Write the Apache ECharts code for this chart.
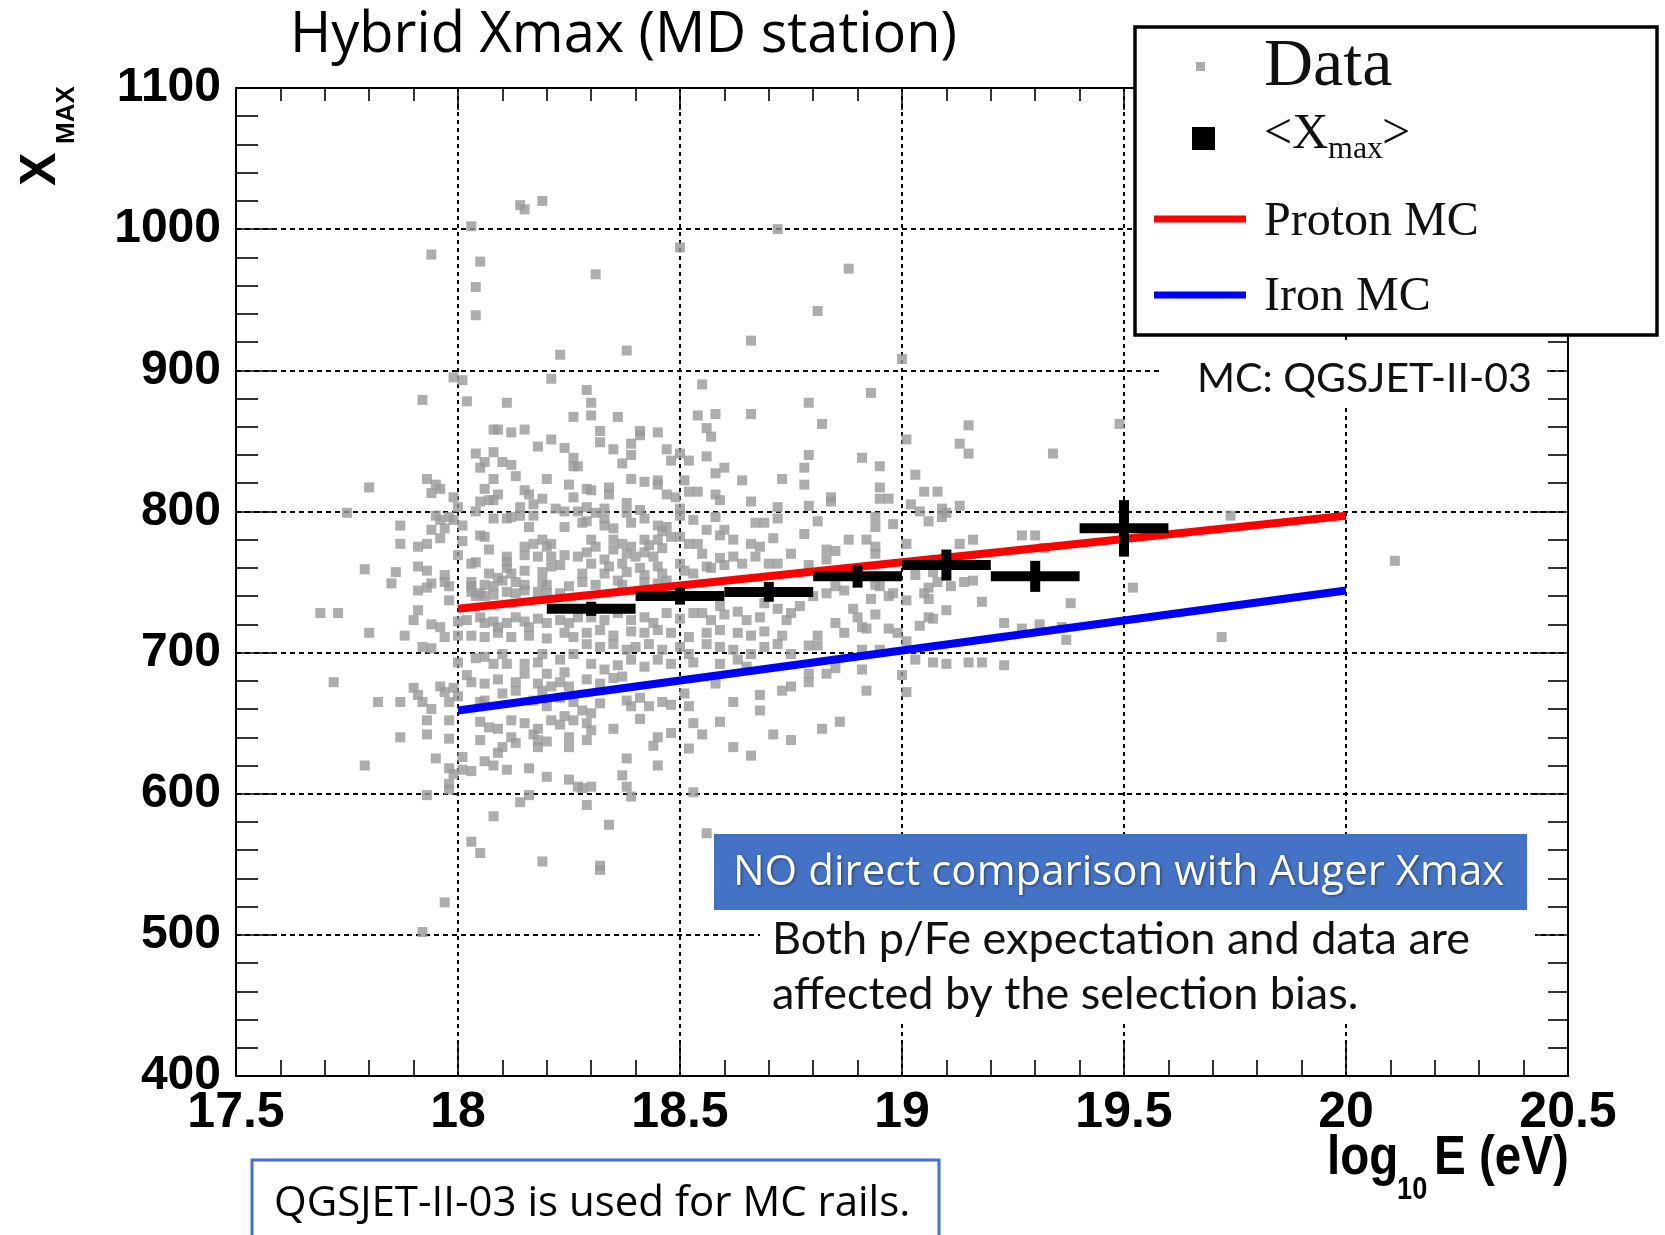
<!DOCTYPE html>
<html>
<head>
<meta charset="utf-8">
<title>Hybrid Xmax (MD station)</title>
<script src="https://cdn.jsdelivr.net/npm/echarts@6/dist/echarts.min.js"></script>
<style>
  html, body { margin: 0; padding: 0; background: #fff; }
  #chart { width: 1665px; height: 1235px; }
</style>
</head>
<body>
<div id="chart"></div>
<script>
// ---- axis setup ----
const X_MIN = 17.5, X_MAX = 20.5, X_STEP = 0.5;
const Y_MIN = 400, Y_MAX = 1100, Y_STEP = 100;

// ---- individual events: [log10 E, Xmax] ----
const dataPoints = [
  // sparse events outside the core
  [18.14,1017],[18.19,1020],[18.15,1014],[18.03,1002],[17.94,982],[18.05,977],[18.31,968],[18.50,987],
  [18.72,1000],[18.88,972],[18.04,959],[18.04,939],[18.81,942],[18.66,921],[18.23,911],[18.38,914],
  [19.00,908],[17.99,895],[18.01,893],[18.21,894],[18.29,886],[18.55,890],
  [17.75,799],[17.69,728],[17.73,728],[17.72,679],[17.92,502],[17.97,523],
  [19.32,774],[19.49,862],[19.34,841],[19.74,797],[20.11,765],[19.52,746],[19.38,735],[19.72,711],
  [19.36,718],[19.37,709],[19.31,720],
  // 17.8 - 18.27, 710 - 880
  [17.92,879],[18.02,878],[18.11,877],[18.26,867],[18.08,858],[18.09,858],[18.12,856],[18.15,858],
  [18.21,851],[18.18,846],[18.24,845],[18.04,841],[18.08,842],[18.06,835],[18.05,831],[18.10,835],
  [18.12,833],[18.26,838],[18.26,832],[17.93,823],[18.08,823],[18.13,825],[18.20,823],[17.95,819],
  [17.96,816],[18.06,816],[18.09,812],[18.08,808],[18.15,815],[18.16,812],[18.19,809],[18.25,819],
  [18.26,810],[17.80,817],[17.94,813],[17.99,810],[18.05,807],[18.07,808],[18.17,805],[18.22,802],
  [18.00,803],[18.04,800],[18.14,803],[18.14,797],[18.17,797],[18.24,800],[18.27,800],[17.95,797],
  [17.96,794],[17.98,796],[17.99,794],[17.87,790],[18.08,795],[18.11,795],[18.12,796],[18.16,789],
  [18.24,789],[17.94,787],[17.97,788],[18.01,790],[18.05,783],[18.06,782],[18.01,779],[17.87,777],
  [17.91,775],[17.93,777],[17.96,781],[18.07,773],[18.11,768],[18.11,764],[18.15,775],[18.15,769],
  [18.17,777],[18.19,780],[18.20,775],[18.21,777],[18.18,768],[18.21,768],[18.24,769],[18.00,769],
  [18.03,763],[18.04,764],[17.79,759],[17.86,757],[17.91,761],[17.93,758],[17.97,755],[18.07,756],
  [18.09,753],[18.11,760],[18.12,756],[18.15,758],[18.19,757],[18.21,761],[18.23,762],[17.85,749],
  [17.91,744],[17.93,746],[17.94,749],[17.97,750],[17.98,747],[18.03,750],[18.03,747],[18.06,748],
  [18.08,747],[18.10,751],[18.13,750],[18.15,748],[18.19,750],[18.20,748],[18.25,747],[17.98,737],
  [18.03,743],[18.04,740],[18.05,742],[18.06,740],[18.08,741],[18.11,743],[18.13,742],[18.15,744],
  [18.18,743],[18.20,742],[18.23,742],[17.91,730],[17.90,723],[17.94,720],[17.96,718],[18.00,722],
  [18.02,723],[18.05,725],[18.06,721],[18.08,722],[18.09,718],[18.11,721],[18.13,725],[18.15,722],
  [18.16,718],[18.18,724],[18.20,721],[18.23,723],[18.25,721],[18.27,725],[17.80,714],[17.88,712],
  [17.97,711],[18.00,712],[18.03,712],[18.06,711],[18.09,714],[18.12,711],[18.16,712],[18.20,710],
  [18.24,714],[18.26,711],
  // 18.27 - 18.77, 710 - 880
  [18.30,877],[18.30,868],[18.36,867],[18.54,868],[18.58,869],[18.66,869],[18.32,857],[18.32,849],
  [18.41,857],[18.41,854],[18.45,856],[18.56,859],[18.57,853],[18.39,848],[18.35,844],[18.47,844],
  [18.50,841],[18.48,836],[18.52,836],[18.39,840],[18.37,834],[18.56,839],[18.60,831],[18.58,827],
  [18.27,832],[18.39,823],[18.42,821],[18.45,822],[18.45,819],[18.51,822],[18.64,822],[18.73,823],
  [18.29,816],[18.30,815],[18.34,817],[18.34,812],[18.47,812],[18.49,810],[18.52,814],[18.54,814],
  [18.58,812],[18.59,808],[18.29,803],[18.31,799],[18.33,802],[18.33,795],[18.38,806],[18.38,799],
  [18.41,801],[18.42,795],[18.50,802],[18.50,797],[18.66,807],[18.72,803],[18.72,795],[18.28,792],
  [18.29,793],[18.33,790],[18.35,788],[18.39,792],[18.45,790],[18.46,786],[18.47,789],[18.53,794],
  [18.56,787],[18.58,796],[18.59,783],[18.60,787],[18.67,792],[18.69,792],[18.71,781],[18.30,780],
  [18.31,775],[18.29,771],[18.35,780],[18.35,773],[18.37,777],[18.39,775],[18.38,770],[18.42,780],
  [18.42,771],[18.43,776],[18.45,780],[18.46,774],[18.48,782],[18.50,782],[18.52,777],[18.54,777],
  [18.62,780],[18.66,777],[18.68,775],[18.27,768],[18.30,763],[18.28,756],[18.33,766],[18.34,761],
  [18.33,756],[18.37,763],[18.38,757],[18.40,768],[18.41,760],[18.42,755],[18.44,768],[18.45,761],
  [18.46,756],[18.50,763],[18.51,758],[18.53,756],[18.55,770],[18.56,761],[18.57,760],[18.59,767],
  [18.60,762],[18.62,768],[18.64,763],[18.67,768],[18.70,763],[18.72,763],[18.75,770],[18.28,750],
  [18.31,748],[18.36,751],[18.37,748],[18.42,750],[18.45,749],[18.47,751],[18.30,725],[18.33,723],
  [18.36,728],[18.39,723],[18.42,725],[18.44,721],[18.47,728],[18.50,724],[18.53,728],[18.55,728],
  [18.57,723],[18.60,727],[18.63,729],[18.65,723],[18.68,725],[18.72,731],[18.75,728],[18.74,723],
  [18.29,714],[18.32,716],[18.35,712],[18.39,715],[18.42,714],[18.45,716],[18.48,714],[18.52,711],
  [18.56,714],[18.59,716],[18.63,714],[18.66,712],[18.69,715],[18.73,712],[18.59,733],[18.69,735],
  // 18.77 - 19.3, 710 - 885
  [18.93,884],[18.79,877],[18.82,862],[19.15,861],[19.01,851],[19.13,848],[19.15,841],[18.79,840],
  [18.91,838],[18.78,831],[18.78,819],[18.95,832],[19.03,826],[18.95,817],[19.05,814],[19.08,814],
  [18.84,810],[18.84,807],[18.95,809],[18.97,809],[18.79,804],[19.02,805],[19.04,800],[19.13,804],
  [19.09,802],[19.10,799],[19.09,796],[18.94,796],[18.94,789],[18.81,793],[18.98,791],[19.06,793],
  [18.78,784],[18.88,780],[18.92,780],[18.94,775],[19.01,777],[19.13,777],[19.16,780],[19.27,783],
  [19.30,783],[18.83,773],[18.85,772],[18.94,770],[18.83,766],[18.79,762],[19.03,755],[19.07,757],
  [19.08,750],[19.06,746],[19.05,742],[19.06,738],[19.14,750],[19.16,751],[19.11,747],[18.85,747],
  [18.87,744],[18.94,748],[18.95,747],[18.83,742],[18.80,740],[18.93,738],[18.97,740],[18.98,742],
  [19.01,737],[19.18,736],[18.77,733],[18.89,731],[18.90,725],[19.10,730],[18.85,721],[18.87,714],
  [18.94,727],[19.06,725],[19.07,724],[19.04,719],[18.91,718],[18.92,717],[18.97,717],[18.99,714],
  [19.23,721],[19.27,717],[18.81,712],
  // 17.8 - 18.27, 550 - 710
  [17.92,704],[17.94,703],[18.00,693],[18.04,696],[18.06,697],[18.08,692],[18.10,699],[18.11,692],
  [18.15,692],[18.15,685],[18.18,693],[18.20,685],[18.19,699],[18.23,695],[18.24,686],[18.26,699],
  [18.02,684],[18.03,679],[18.06,678],[18.09,681],[18.10,671],[18.13,679],[18.13,673],[18.18,678],
  [18.19,673],[18.21,676],[18.23,679],[18.25,676],[17.90,675],[17.91,670],[17.96,676],[17.97,672],
  [17.99,675],[17.92,665],[17.94,660],[17.82,665],[17.87,665],[17.98,665],[18.00,669],[18.05,665],
  [18.06,666],[18.17,666],[18.20,662],[18.23,668],[18.26,665],[17.93,652],[17.98,652],[18.05,651],
  [18.07,647],[18.09,646],[18.12,652],[18.15,650],[18.18,646],[18.21,652],[18.23,649],[18.24,655],
  [18.26,652],[17.87,640],[17.93,642],[17.98,639],[18.05,638],[18.10,633],[18.12,640],[18.13,636],
  [18.17,642],[18.18,638],[18.18,633],[18.20,637],[18.25,640],[18.25,633],[17.95,625],[18.01,626],
  [18.06,623],[18.08,620],[18.09,629],[17.79,620],[17.98,618],[17.99,614],[18.01,617],[18.03,616],
  [18.11,617],[18.16,618],[18.20,612],[18.25,610],[18.27,605],[17.98,607],[17.98,603],[17.93,599],
  [18.14,594],[18.16,599],[18.08,584],[18.03,566],[18.05,558],[18.19,552],
  // 18.27 - 18.77, 540 - 710
  [18.29,706],[18.32,704],[18.35,706],[18.38,702],[18.40,704],[18.43,706],[18.46,702],[18.50,704],
  [18.52,699],[18.56,706],[18.59,704],[18.62,702],[18.66,699],[18.69,704],[18.72,706],[18.75,699],
  [18.30,692],[18.33,688],[18.36,691],[18.39,695],[18.42,690],[18.45,695],[18.48,692],[18.53,693],
  [18.59,692],[18.63,695],[18.65,690],[18.29,681],[18.32,678],[18.35,682],[18.37,683],[18.38,666],
  [18.41,668],[18.43,662],[18.39,662],[18.28,659],[18.30,657],[18.32,664],[18.46,665],[18.48,663],
  [18.51,671],[18.52,662],[18.58,678],[18.62,665],[18.68,670],[18.68,659],[18.73,673],[18.75,676],
  [18.29,650],[18.30,645],[18.35,646],[18.41,653],[18.53,650],[18.55,642],[18.59,651],[18.48,643],
  [18.45,640],[18.44,634],[18.29,638],[18.52,632],[18.62,633],[18.66,627],[18.71,642],[18.75,638],
  [18.38,625],[18.45,620],[18.37,613],[18.28,604],[18.30,605],[18.38,605],[18.39,598],[18.53,601],
  [18.29,592],[18.34,578],[18.56,572],[18.32,549],[18.32,546],
  // 18.77 - 19.25, 640 - 710
  [18.79,705],[18.81,705],[18.91,702],[18.95,702],[19.01,708],[19.03,695],[19.07,693],[19.10,692],
  [19.15,693],[19.18,693],[19.23,691],[18.79,685],[18.79,679],[18.83,685],[18.85,689],[18.91,688],
  [19.00,684],[19.01,672],[18.92,673],[18.82,646],[18.86,651]
];

// ---- binned mean <Xmax> ----
const meanLogE = [18.3, 18.5, 18.7, 18.9, 19.1, 19.3, 19.5];
const meanXmax = [731, 740, 743, 754, 762, 754, 788];
const meanErr  = [5, 6, 7, 8, 11, 11, 20];
const BIN_HALF = 0.1;

// ---- MC expectations (QGSJET-II-03) ----
const protonLine = [[18, 731], [20, 797]];
const ironLine   = [[18, 659], [20, 744]];

const meanData = meanLogE.map((e, i) => [e, meanXmax[i], meanErr[i]]);

const serifFont = '"Liberation Serif", "Times New Roman", serif';
const sansBold = '"Liberation Sans", Arial, sans-serif';
const officeFont = '"Open Sans", "Noto Sans", sans-serif';
const gillFont = 'Lato, "Open Sans", sans-serif';

function axisCommon(position, majorLen, minorLen) {
  return {
    axisLine: { show: true, onZero: false, lineStyle: { color: '#000', width: 2 } },
    axisTick: { show: true, inside: true, length: majorLen, lineStyle: { color: '#000', width: 1.6 } },
    minorTick: { show: true, splitNumber: 5, length: minorLen, lineStyle: { color: '#000', width: 1.6 } },
    position: position
  };
}

const chart = echarts.init(document.getElementById('chart'), null, { renderer: 'canvas' });

chart.setOption({
  animation: false,
  backgroundColor: '#fff',
  title: {
    text: 'Hybrid Xmax (MD station)',
    left: 290, top: 8, padding: 0,
    textStyle: { fontFamily: officeFont, fontSize: 56, fontWeight: 'normal', color: '#000' }
  },
  grid: { left: 236, top: 88, width: 1332, height: 988, containLabel: false },
  xAxis: [
    Object.assign({
      type: 'value', min: X_MIN, max: X_MAX, interval: X_STEP,
      splitLine: { show: true, lineStyle: { color: '#000', width: 2, type: [4, 4] } },
      axisLabel: { show: true, margin: 12, color: '#000', fontSize: 50, fontWeight: 'bold', fontFamily: sansBold }
    }, axisCommon('bottom', 35, 16)),
    Object.assign({
      type: 'value', min: X_MIN, max: X_MAX, interval: X_STEP,
      splitLine: { show: false }, axisLabel: { show: false }
    }, axisCommon('top', 22, 13))
  ],
  yAxis: [
    Object.assign({
      type: 'value', min: Y_MIN, max: Y_MAX, interval: Y_STEP,
      splitLine: { show: true, lineStyle: { color: '#000', width: 2, type: [5, 4] } },
      axisLabel: { show: true, margin: 15, color: '#000', fontSize: 48, fontWeight: 'bold', fontFamily: sansBold,
                   formatter: v => String(v) }
    }, axisCommon('left', 40, 22)),
    Object.assign({
      type: 'value', min: Y_MIN, max: Y_MAX, interval: Y_STEP,
      splitLine: { show: false }, axisLabel: { show: false }
    }, axisCommon('right', 38, 20))
  ],
  series: [
    {
      name: 'Data', type: 'scatter', xAxisIndex: 0, yAxisIndex: 0,
      symbol: 'rect', symbolSize: 10, z: 2,
      itemStyle: { color: '#999999' },
      data: dataPoints
    },
    {
      name: 'Iron MC', type: 'line', xAxisIndex: 0, yAxisIndex: 0, z: 3,
      showSymbol: false, symbol: 'none',
      lineStyle: { color: '#0000ff', width: 8 },
      data: ironLine
    },
    {
      name: 'Proton MC', type: 'line', xAxisIndex: 0, yAxisIndex: 0, z: 3,
      showSymbol: false, symbol: 'none',
      lineStyle: { color: '#ff0000', width: 8 },
      data: protonLine
    },
    {
      name: '<Xmax>', type: 'custom', xAxisIndex: 0, yAxisIndex: 0, z: 4,
      data: meanData,
      renderItem: function (params, api) {
        const e = api.value(0), x = api.value(1), err = api.value(2);
        const l = api.coord([e - BIN_HALF, x]);
        const r = api.coord([e + BIN_HALF, x]);
        const t = api.coord([e, x + err]);
        const b = api.coord([e, x - err]);
        return {
          type: 'group',
          children: [
            { type: 'line', shape: { x1: l[0], y1: l[1], x2: r[0], y2: r[1] }, style: { stroke: '#000', lineWidth: 10 } },
            { type: 'line', shape: { x1: t[0], y1: t[1], x2: b[0], y2: b[1] }, style: { stroke: '#000', lineWidth: 10 } }
          ]
        };
      }
    }
  ],
  graphic: [
    // y axis title X_MAX (rotated)
    {
      type: 'group', x: 58, y: 186, rotation: Math.PI / 2, z: 100,
      children: [
        { type: 'text', x: 0, y: -17, style: { text: 'X', font: 'bold 50px ' + sansBold, fill: '#000', align: 'left', verticalAlign: 'middle' } },
        { type: 'text', x: 42, y: 9, style: { text: 'MAX', font: 'bold 26px ' + sansBold, fill: '#000', align: 'left', verticalAlign: 'middle' } }
      ]
    },
    // x axis title log10 E (eV), condensed bold
    { type: 'text', x: 1327, y: 1159, scaleX: 0.85, z: 100, style: { text: 'log', font: 'bold 56px ' + sansBold, fill: '#000', align: 'left', verticalAlign: 'middle' } },
    { type: 'text', x: 1397, y: 1190, scaleX: 0.85, z: 100, style: { text: '10', font: 'bold 32px ' + sansBold, fill: '#000', align: 'left', verticalAlign: 'middle' } },
    { type: 'text', x: 1434, y: 1159, scaleX: 0.85, z: 100, style: { text: 'E (eV)', font: 'bold 56px ' + sansBold, fill: '#000', align: 'left', verticalAlign: 'middle' } },

    // legend
    { type: 'rect', z: 100, shape: { x: 1135, y: 27, width: 522, height: 308 }, style: { fill: '#fff', stroke: '#000', lineWidth: 3.5 } },
    { type: 'rect', z: 101, shape: { x: 1196, y: 62, width: 9, height: 9 }, style: { fill: '#ababab' } },
    { type: 'text', z: 101, x: 1264, y: 67, style: { text: 'Data', font: '68px ' + serifFont, fill: '#111', align: 'left', verticalAlign: 'middle' } },
    { type: 'rect', z: 101, shape: { x: 1192, y: 127, width: 23, height: 23 }, style: { fill: '#000' } },
    { type: 'text', z: 101, x: 1264, y: 135, style: { text: '<X', font: '50px ' + serifFont, fill: '#111', align: 'left', verticalAlign: 'middle' } },
    { type: 'text', z: 101, x: 1328, y: 150, style: { text: 'max', font: '32px ' + serifFont, fill: '#111', align: 'left', verticalAlign: 'middle' } },
    { type: 'text', z: 101, x: 1382, y: 135, style: { text: '>', font: '50px ' + serifFont, fill: '#111', align: 'left', verticalAlign: 'middle' } },
    { type: 'line', z: 101, shape: { x1: 1154, y1: 219, x2: 1246, y2: 219 }, style: { stroke: '#ff0000', lineWidth: 7 } },
    { type: 'text', z: 101, x: 1264, y: 222, style: { text: 'Proton MC', font: '48px ' + serifFont, fill: '#111', align: 'left', verticalAlign: 'middle' } },
    { type: 'line', z: 101, shape: { x1: 1154, y1: 295, x2: 1246, y2: 295 }, style: { stroke: '#0000ff', lineWidth: 7 } },
    { type: 'text', z: 101, x: 1264, y: 297, style: { text: 'Iron MC', font: '48px ' + serifFont, fill: '#111', align: 'left', verticalAlign: 'middle' } },

    // MC model note
    { type: 'rect', z: 90, shape: { x: 1163, y: 340, width: 384, height: 64 }, style: { fill: '#fff' } },
    { type: 'text', z: 91, x: 1197, y: 379, style: { text: 'MC: QGSJET-II-03', font: '41px ' + gillFont, fill: '#111', align: 'left', verticalAlign: 'middle' } },

    // selection bias note
    { type: 'rect', z: 90, shape: { x: 760, y: 912, width: 775, height: 108 }, style: { fill: '#fff' } },
    { type: 'text', z: 91, x: 772, y: 939, style: { text: 'Both p/Fe expectation and data are', font: '45px ' + gillFont, fill: '#111', align: 'left', verticalAlign: 'middle' } },
    { type: 'text', z: 91, x: 772, y: 994, style: { text: 'affected by the selection bias.', font: '45px ' + gillFont, fill: '#111', align: 'left', verticalAlign: 'middle' } },

    // highlighted caveat
    { type: 'rect', z: 95, shape: { x: 714, y: 834, width: 813, height: 76 }, style: { fill: '#4472c4' } },
    { type: 'text', z: 96, x: 733, y: 873, style: { text: 'NO direct comparison with Auger Xmax', font: '42px ' + officeFont, fill: '#fff',
      align: 'left', verticalAlign: 'middle', textShadowColor: 'rgba(0,0,0,0.45)', textShadowBlur: 3, textShadowOffsetX: 1, textShadowOffsetY: 1 } },

    // footnote box
    { type: 'rect', z: 95, shape: { x: 252, y: 1160, width: 687, height: 90 }, style: { fill: '#fff', stroke: '#4472c4', lineWidth: 3 } },
    { type: 'text', z: 96, x: 274, y: 1204, style: { text: 'QGSJET-II-03 is used for MC rails.', font: '42px ' + officeFont, fill: '#000', align: 'left', verticalAlign: 'middle' } }
  ]
});
</script>
</body>
</html>
